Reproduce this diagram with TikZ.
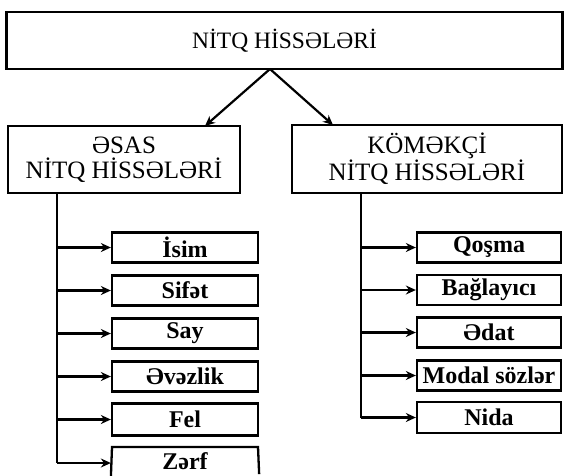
\documentclass[tikz,border=0pt]{standalone}
\usepackage{fontspec}
\setmainfont{Liberation Serif}
\usetikzlibrary{arrows.meta}
\begin{document}
\begin{tikzpicture}[x=1pt,y=-1pt,
  box/.style={draw,line width=2.3pt,inner sep=0pt,align=center},
  hdr/.style={box,font=\fontsize{25}{25}\selectfont},
  itembox/.style={box,minimum height=30pt,font=\bfseries\fontsize{24}{24}\selectfont},
  litem/.style={itembox,minimum width=146pt},
  ritem/.style={itembox,minimum width=144pt},
  conn/.style={line width=2.2pt},
  arr/.style={conn,-{Stealth[length=10pt,width=9pt]}}]
\useasboundingbox (0,0) rectangle (564,475);
\clip (0,0) rectangle (564,475);
\fill[white] (0,0) rectangle (564,475);
\node[box,minimum width=556pt,minimum height=57pt,font=\fontsize{23.5}{24}\selectfont] (top) at (284.5,40.5) {NİTQ HİSSƏLƏRİ};
\node[hdr,minimum width=232pt,minimum height=67pt] (lbox) at (124,159.5) {ƏSAS\\NİTQ HİSSƏLƏRİ};
\node[hdr,minimum width=270pt,minimum height=68pt] (rbox) at (427,159) {KÖMƏKÇİ\\NİTQ HİSSƏLƏRİ};
\coordinate (ts) at (270,69);
\coordinate (la) at (205,126);
\coordinate (ra) at (333,125);
\draw[arr] (ts) -- (la);
\draw[arr] (ts) -- (ra);
% left items
\node[litem] (i1) at (185,247.5) {İsim};
\node[litem] (i2) at (185,290.5) {Sifət};
\node[litem] (i3) at (185,333.5) {Say};
\node[litem] (i4) at (185,376.5) {Əvəzlik};
\node[litem,minimum height=32pt] (i5) at (185,419.5) {Fel};
% last box runs past the bottom edge: three sides only
\node[itembox,draw=none,minimum width=146pt,minimum height=28pt] (i6) at (185,461) {Zərf};
\draw[line width=2.3pt] (i6.south west) ++(0,2) -- (112,447) -- (258,447) -- ([yshift=2pt]i6.south east);
\coordinate (lv) at (57,193);
\coordinate (lb) at (57,463);
\draw[conn] (lv) -- (lb);
\foreach \n in {i1,i2,i3,i4,i5}{
  \draw[arr] (lv |- \n.west) -- (\n.west);
}
\draw[arr] (lb) -- (lb -| i6.west);
% right items
\node[ritem] (r1) at (489,247.5) {Qoşma};
\node[ritem] (r2) at (489,290) {Bağlayıcı};
\node[ritem] (r3) at (489,332.5) {Ədat};
\node[ritem] (r4) at (489,375.5) {Modal sözlər};
\node[ritem,minimum height=31pt] (r5) at (489,417.5) {Nida};
\coordinate (rv) at (361,193);
\coordinate (rb) at (361,417.5);
\draw[conn] (rv) -- (rb);
\foreach \n in {r1,r2,r3,r4,r5}{
  \draw[arr] (rv |- \n.west) -- (\n.west);
}
\end{tikzpicture}
\end{document}
